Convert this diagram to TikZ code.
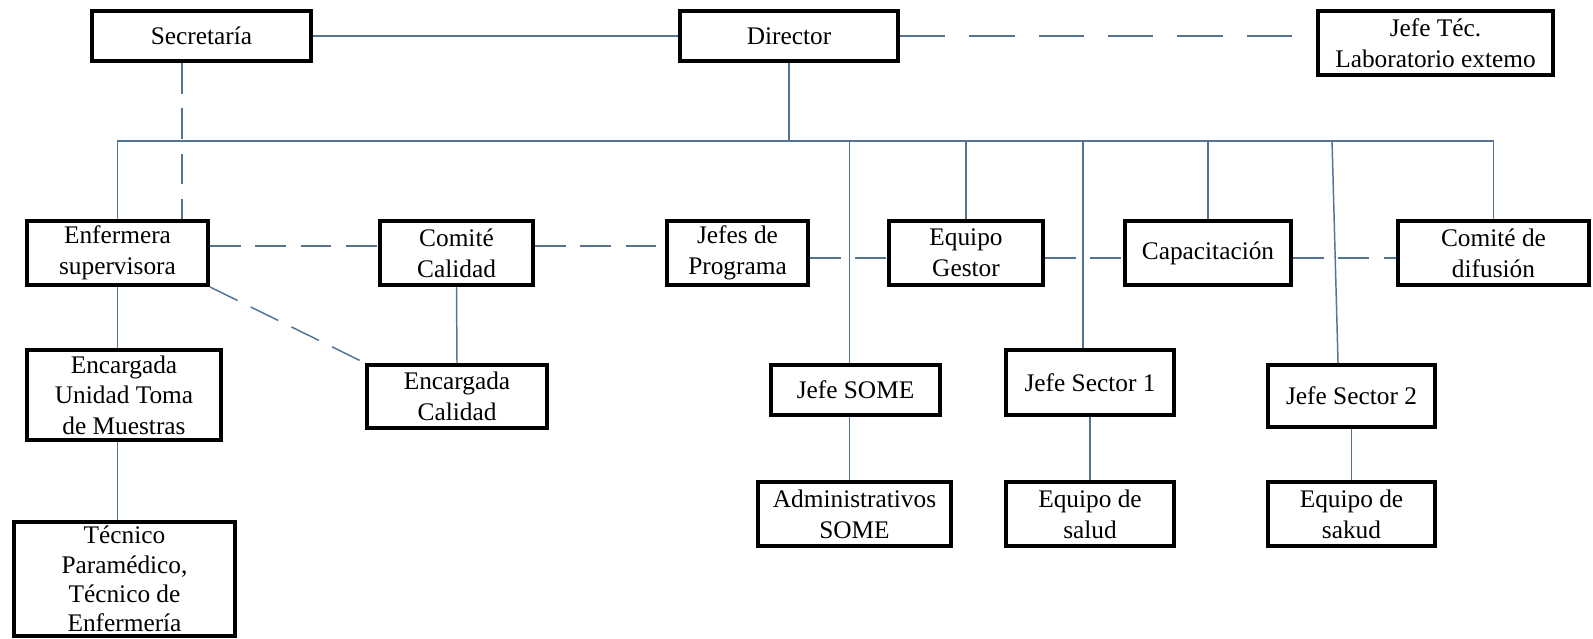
\documentclass[tikz,border=0pt]{standalone}
\usepackage{fontspec}
\setmainfont{Liberation Serif}
\definecolor{linkblue}{RGB}{84,116,146}
% a box from its outer corners (x1,y1)-(x2,y2), in pixel units
\newcommand\orgbox[7][]{%
  \node[orgnode, #1, minimum width={(#5-#3-4)*0.75pt}, minimum height={(#6-#4-4)*0.75pt}]
    (#2) at ({(#3+#5)/2},{(#4+#6)/2}) {#7};}
\tikzset{
  orgnode/.style={draw=black, line width=3pt, fill=white, inner sep=0pt,
    align=center, font=\fontsize{19pt}{23pt}\selectfont},
  tight/.style={font=\fontsize{19pt}{22pt}\selectfont},
  link/.style={draw=linkblue, line width=1.1pt},
  longdash/.style={dash pattern=on 34pt off 18pt},
  dashline/.style={dash pattern=on 23pt off 11pt},
}
\begin{document}
\begin{tikzpicture}[x=0.75pt, y=-0.75pt]
\useasboundingbox (0,0) rectangle (1593,639);
\fill[white] (0,0) rectangle (1593,639);

\coordinate (bus) at (790,141);

% top row
\orgbox{sec}{90}{9}{313}{63}{Secretaría}
\orgbox{dir}{678}{9}{900}{63}{Director}
\orgbox{lab}{1316}{9}{1555}{77}{Jefe Téc.\\Laboratorio extemo}

\draw[link] (sec.east) -- (dir.west);
\draw[link, longdash] (dir.east) -- (dir.east -| lab.west);

% second row
\orgbox{enf}{25}{219}{210}{287}{Enfermera\\supervisora}
\orgbox{com}{378}{219}{535}{287}{Comité\\Calidad}
\orgbox{jpr}{665}{219}{810}{287}{Jefes de\\Programa}
\orgbox{eqg}{887}{219}{1045}{287}{Equipo\\Gestor}
\orgbox{cap}{1123}{219}{1293}{287}{Capacitación}
\orgbox{dif}{1396}{219}{1591}{287}{Comité de\\difusión}

% third row
\orgbox{utm}{25}{348}{223}{442}{Encargada\\Unidad Toma\\de Muestras}
\orgbox{ecal}{365}{363}{549}{430}{Encargada\\Calidad}
\orgbox{some}{769}{363}{942}{417}{Jefe SOME}
\orgbox{js1}{1004}{348}{1176}{417}{Jefe Sector 1}
\orgbox{js2}{1266}{363}{1437}{429}{Jefe Sector 2}

% bottom row
\orgbox[tight]{tec}{12}{520}{237}{638}{Técnico\\Paramédico,\\Técnico de\\Enfermería}
\orgbox{adm}{756}{480}{953}{548}{Administrativos\\SOME}
\orgbox{eqs1}{1004}{480}{1176}{548}{Equipo de\\salud}
\orgbox{eqs2}{1266}{480}{1437}{548}{Equipo de\\sakud}

% director to the bus and its branches
\draw[link] (dir.south) -- (dir.south |- bus);
\draw[link] (enf.north) |- (bus) -| (dif.north);
\draw[link] (bus -| eqg.north) -- (eqg.north);
\draw[link] (bus -| cap.north) -- (cap.north);
\draw[link] ([xshift=-4.5pt]bus -| some.north) -- ([xshift=-4.5pt]some.north);
\draw[link] ([xshift=-5.25pt]bus -| js1.north) -- ([xshift=-5.25pt]js1.north);
\draw[link] ([xshift=-14.6pt]bus -| js2.north) -- ([xshift=-10.1pt]js2.north);

% direct dependencies
\draw[link] (enf.south) -- (enf.south |- utm.north);
\draw[link] (utm.south -| enf.south) -- (tec.north -| enf.south);
\draw[link] (com.south) -- (ecal.north);
\draw[link] ([xshift=-4.5pt]some.south) -- ([xshift=-4.5pt]some.south |- adm.north);
\draw[link] (js1.south) -- (js1.south |- eqs1.north);
\draw[link] (js2.south) -- (js2.south |- eqs2.north);

% coordination links
\draw[link, dashline] ([xshift=-14.6pt]sec.south) -- ([xshift=-14.6pt]sec.south |- enf.north);
\draw[link, dashline] ([yshift=5.25pt]enf.east) -- ([yshift=5.25pt]enf.east -| com.west);
\draw[link, dashline] ([yshift=5.25pt]com.east) -- ([yshift=5.25pt]com.east -| jpr.west);
\draw[link, dashline] ([yshift=-3.75pt]jpr.east) -- ([yshift=-3.75pt]jpr.east -| eqg.west);
\draw[link, dashline] ([yshift=-3.75pt]eqg.east) -- ([yshift=-3.75pt]eqg.east -| cap.west);
\draw[link, dashline] ([yshift=-3.75pt]cap.east) -- ([yshift=-3.75pt]cap.east -| dif.west);
\draw[link, dashline] (enf.south east) -- (ecal.north west);
\end{tikzpicture}
\end{document}
